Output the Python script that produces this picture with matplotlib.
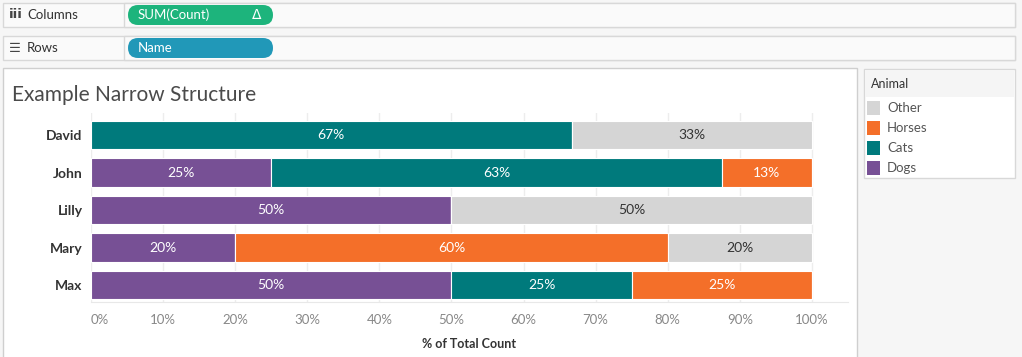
import numpy as np
import matplotlib
matplotlib.use('Agg')
import matplotlib.pyplot as plt
from matplotlib.patches import Rectangle, FancyBboxPatch
from matplotlib.transforms import IdentityTransform

plt.rcParams['font.family'] = ['Lato', 'DejaVu Sans']

names = ['David', 'John', 'Lilly', 'Mary', 'Max']
animals = ['Dogs', 'Cats', 'Horses', 'Other']
# counts per name, in the order of animals
dogs = [0, 2, 1, 1, 2]
cats = [2, 5, 0, 0, 1]
horses = [0, 1, 0, 3, 1]
other = [1, 0, 1, 1, 0]
colors = {'Dogs': '#775095', 'Cats': '#007A7C', 'Horses': '#F46F29', 'Other': '#D5D5D5'}
text_colors = {'Dogs': 'white', 'Cats': 'white', 'Horses': 'white', 'Other': '#333333'}
xticks = [0, 10, 20, 30, 40, 50, 60, 70, 80, 90, 100]

W, H = 1022, 357
fig = plt.figure(figsize=(W/100, H/100), dpi=100)
fig.patch.set_facecolor('#F6F6F6')

def box(x0, y0, x1, y1, fc='white', ec='#D8D8D8', lw=1, z=0):
    fig.patches.append(Rectangle((x0/W, 1-y1/H), (x1-x0)/W, (y1-y0)/H,
                                 transform=fig.transFigure, fc=fc, ec=ec, lw=lw, zorder=z))

def pill(x0, y0, x1, y1, fc):
    r = (y1-y0)/2
    fig.patches.append(FancyBboxPatch((x0, H-y1), x1-x0, y1-y0,
                                      boxstyle='round,pad=0,rounding_size=%f' % r,
                                      transform=IdentityTransform(), fc=fc, ec='none', zorder=2))

def txt(x, y, s, **kw):
    fig.text(x/W, 1-y/H, s, va='center', **kw)

# shelves
for y0, y1, label, icon, pname, pcol in [(3, 27, 'Columns', 'iii', 'SUM(Count)', '#1DB47C'),
                                          (36, 60, 'Rows', '\u2630', 'Name', '#2198B8')]:
    box(3, y0, 1015, y1, fc='#FAFAFA')
    box(124, y0, 1015, y1, fc='#FAFAFA')
    txt(9, (y0+y1)/2, icon, fontsize=9.5, color='#444444', fontweight='bold', family=['DejaVu Sans'])
    txt(27, (y0+y1)/2, label, fontsize=9.5, color='#333333')
    pill(128, y0+2, 273, y1-2, pcol)
    txt(138, (y0+y1)/2, pname, fontsize=9.5, color='white')
txt(252, 15, '\u0394', fontsize=10, color='white', family=['DejaVu Sans'])

# main panel and legend panel
box(3, 68, 857, 360, fc='white', ec='#CFCFCF')
box(864, 69, 1015, 178, fc='white', ec='#D8D8D8')
box(865, 70, 1014, 97, fc='#F5F5F5', ec='none', z=1)
txt(871, 84, 'Animal', fontsize=9, color='#333333')
legend_order = ['Other', 'Horses', 'Cats', 'Dogs']
for i, a in enumerate(legend_order):
    yc = 108 + 20*i
    box(867, yc-7, 880, yc+7, fc=colors[a], ec='none', z=2)
    txt(887, yc, a, fontsize=9.5, color='#555555')

txt(12, 95, 'Example Narrow Structure', fontsize=15, color='#4A4A4A')

ax = fig.add_axes([91/W, (H-302)/H, 757/W, 189/H])
ax.set_zorder(5)
ax.set_facecolor('none')
data = {'Dogs': np.array(dogs), 'Cats': np.array(cats), 'Horses': np.array(horses), 'Other': np.array(other)}
totals = sum(data.values())
y = np.arange(len(names))
left = np.zeros(len(names))
for a in animals:
    share = data[a] / totals * 100
    ax.barh(y, share, left=left, height=0.75, color=colors[a], edgecolor='white', linewidth=0.8, zorder=3)
    for yi, l, s in zip(y, left, share):
        if s > 0:
            ax.text(l + s/2, yi, '%d%%' % int(s + 0.5), ha='center', va='center',
                    fontsize=10, color=text_colors[a], zorder=4)
    left += share

ax.set_xlim(0, 105)
ax.set_ylim(4 + 17/37.5, -22/37.5)
ax.set_yticks(y)
ax.set_yticklabels(names, fontsize=10, fontweight='bold', color='#333333')
ax.set_xticks(xticks)
ax.set_xticklabels(['%d%%' % t for t in xticks], fontsize=9.5, color='#888888')
ax.get_xticklabels()[0].set_ha('left')
ax.tick_params(axis='y', length=0, pad=6)
ax.tick_params(axis='x', length=0, pad=9)
ax.grid(axis='x', color='#EDEDED', linewidth=1, zorder=0)
ax.set_axisbelow(True)
for s in ['top', 'right', 'left']:
    ax.spines[s].set_visible(False)
ax.spines['bottom'].set_color('#E8E8E8')
ax.set_xlabel('% of Total Count', fontsize=9, fontweight='bold', color='#333333', labelpad=8)

fig.savefig('out.png', dpi=100)
